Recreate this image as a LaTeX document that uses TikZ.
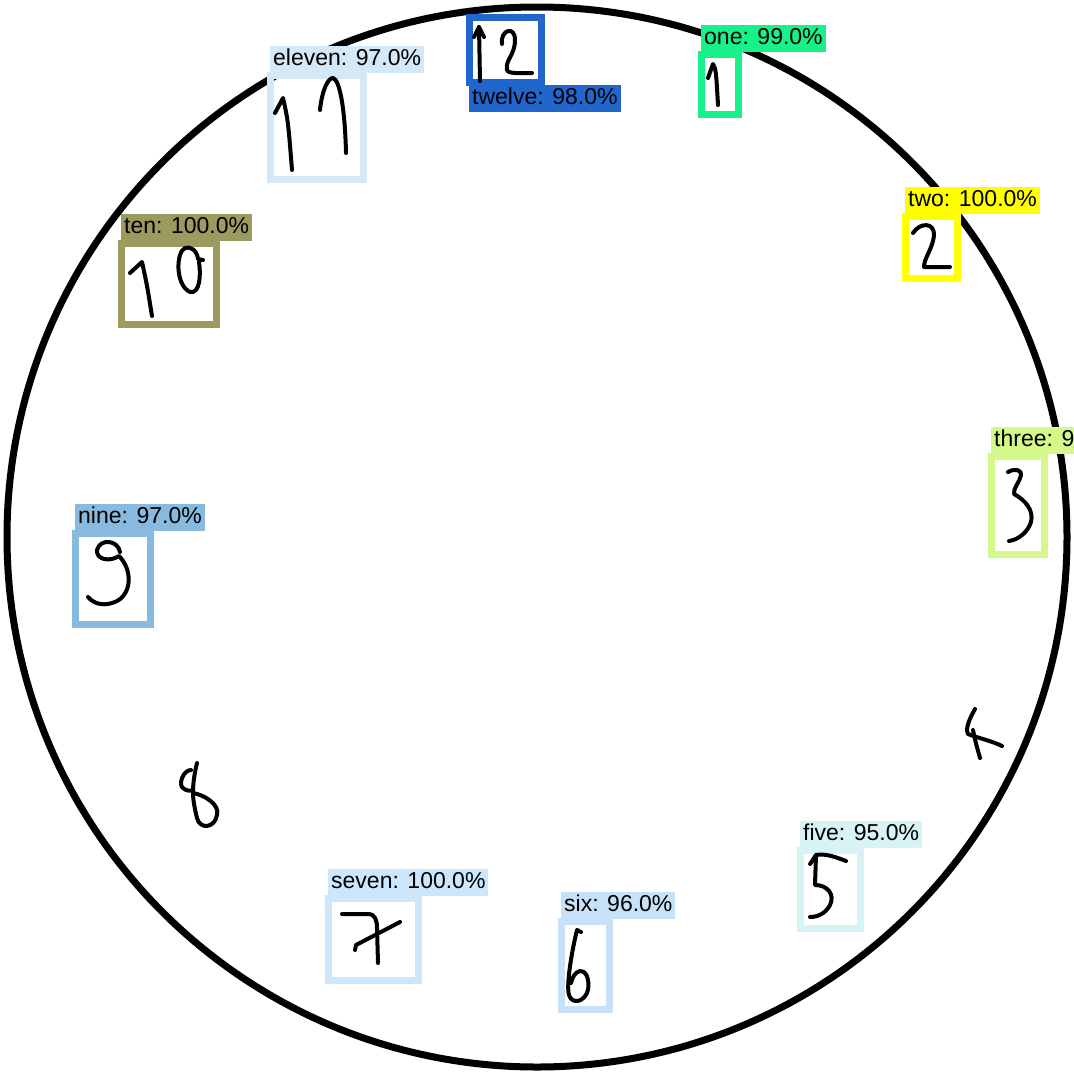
\documentclass[tikz,border=0pt]{standalone}
\usepackage{fontspec}
\setmainfont{Liberation Sans}
\usetikzlibrary{positioning}
\definecolor{ctwelve}{HTML}{2166CC}
\definecolor{celeven}{HTML}{D4E8F8}
\definecolor{cone}{HTML}{18F08A}
\definecolor{cten}{HTML}{9C9A5E}
\definecolor{ctwo}{HTML}{FFFF00}
\definecolor{cthree}{HTML}{D4F88A}
\definecolor{cnine}{HTML}{88BADF}
\definecolor{cfive}{HTML}{D8F3F3}
\definecolor{cseven}{HTML}{CCE7FB}
\definecolor{csix}{HTML}{C7E1F9}
\tikzset{
  digitbox/.style={draw, line width=7pt, inner sep=0pt},
  tag/.style={inner xsep=3pt, inner ysep=2.5pt, text height=17pt, text depth=5pt,
              font=\fontsize{23}{27}\selectfont},
  ink/.style={line width=4pt, line cap=round, line join=round}
}

\begin{document}
\begin{tikzpicture}[x=1pt, y=-1pt]
    \useasboundingbox[fill=white] (0,0) rectangle (1074,1074);
    \draw[line width=7pt] (537,537) circle[radius=530];

    % boxes around the recognised digits
    \node[digitbox, draw=ctwelve, minimum width=72pt, minimum height=65pt] (b12) at (505.5,50) {};
    \node[digitbox, draw=celeven, minimum width=93pt, minimum height=104pt] (b11) at (317,127.5) {};
    \node[digitbox, draw=cone, minimum width=37pt, minimum height=60pt] (b1) at (720,84.5) {};
    \node[digitbox, draw=cten, minimum width=95pt, minimum height=81pt] (b10) at (169,284) {};
    \node[digitbox, draw=ctwo, minimum width=52pt, minimum height=62pt] (b2) at (931.5,247.5) {};
    \node[digitbox, draw=cthree, minimum width=53pt, minimum height=98pt] (b3) at (1018,505.5) {};
    \node[digitbox, draw=cnine, minimum width=75pt, minimum height=91pt] (b9) at (113,579) {};
    \node[digitbox, draw=cfive, minimum width=60pt, minimum height=78pt] (b5) at (830.5,889.5) {};
    \node[digitbox, draw=cseven, minimum width=90pt, minimum height=82pt] (b7) at (373.5,939.5) {};
    \node[digitbox, draw=csix, minimum width=48pt, minimum height=88pt] (b6) at (585.5,965.5) {};

    % labels
    \node[tag, fill=ctwelve, below right=-1pt and 3pt of b12.south west] (l12) {twelve: 98.0\%};
    \node[tag, fill=celeven, above right=-1pt and 3pt of b11.north west] (l11) {eleven: 97.0\%};
    \node[tag, fill=cone, above right=-1pt and 3pt of b1.north west] (l1) {one: 99.0\%};
    \node[tag, fill=cten, above right=-1pt and 3pt of b10.north west] (l10) {ten: 100.0\%};
    \node[tag, fill=ctwo, above right=-1pt and 3pt of b2.north west] (l2) {two: 100.0\%};
    \node[tag, fill=cthree, above right=-1pt and 3pt of b3.north west] (l3) {three: 9};
    \node[tag, fill=cnine, above right=-1pt and 3pt of b9.north west] (l9) {nine: 97.0\%};
    \node[tag, fill=cfive, above right=-1pt and 3pt of b5.north west] (l5) {five: 95.0\%};
    \node[tag, fill=cseven, above right=-1pt and 3pt of b7.north west] (l7) {seven: 100.0\%};
    \node[tag, fill=csix, above right=-1pt and 3pt of b6.north west] (l6) {six: 96.0\%};

    % handwritten digits
    \draw[ink] (474,37) -- (479,27) -- (484,37);
    \draw[ink] (479,27) -- (480,81);
    \draw[ink] (502,44) .. controls (500,30) and (515,25) .. (515,40)
               .. controls (515,55) and (505,60) .. (507,70)
               .. controls (508,74) and (520,73) .. (532,73);
    \draw[ink] (275,113) -- (283,98) .. controls (288,120) .. (292,170);
    \draw[ink] (320,110) .. controls (322,90) and (328,78) .. (333,78)
               .. controls (340,80) and (345,110) .. (346,153);
    \draw[ink] (708,78) -- (713,64) .. controls (716,70) .. (718,105);
    \draw[ink] (130,273) -- (142,262) .. controls (147,285) .. (152,316);
    \draw[ink] (203,260) -- (198,259) .. controls (197,250) and (190,246) .. (185,248)
               .. controls (176,252) and (175,285) .. (190,292)
               .. controls (200,294) and (201,275) .. (199,262);
    \draw[ink] (913,233) .. controls (920,222) and (935,222) .. (934,236)
               .. controls (932,250) and (924,258) .. (924,267) -- (950,267);
    \draw[ink] (1008,472) .. controls (1015,468) and (1022,470) .. (1021,475)
               .. controls (1020,482) and (1013,488) .. (1014,494)
               .. controls (1025,500) and (1034,510) .. (1031,522)
               .. controls (1028,532) and (1018,540) .. (1009,541);
    \draw[ink] (120,552) .. controls (118,540) and (100,538) .. (97,550)
               .. controls (96,560) and (110,562) .. (119,556)
               .. controls (133,570) and (132,595) .. (115,602)
               .. controls (105,606) and (95,605) .. (88,597);
    \draw[ink] (197,763) .. controls (194,775) and (193,785) .. (193,793)
               .. controls (205,795) and (220,805) .. (217,815)
               .. controls (215,828) and (200,830) .. (197,818)
               .. controls (195,810) and (193,800) .. (193,793);
    \draw[ink] (191,770) .. controls (183,770) and (178,785) .. (183,788)
               .. controls (186,791) and (190,791) .. (193,790);
    \draw[ink] (975,709) .. controls (970,718) and (965,728) .. (968,734)
               .. controls (978,738) and (992,741) .. (1002,746);
    \draw[ink] (973,730) .. controls (975,740) .. (980,758);
    \draw[ink] (810,864) -- (816,855) .. controls (826,853) and (838,858) .. (846,861);
    \draw[ink] (816,855) -- (815,885) .. controls (828,885) and (835,895) .. (830,905)
               .. controls (826,913) and (818,917) .. (810,917);
    \draw[ink] (342,914) -- (368,914) .. controls (375,914) and (377,920) .. (377,928) -- (378,963);
    \draw[ink] (355,950) -- (356,945) -- (400,922);
    \draw[ink] (581,932) -- (577,930) .. controls (572,950) and (566,985) .. (569,995)
               .. controls (572,1005) and (585,1002) .. (588,990)
               .. controls (590,978) and (585,970) .. (580,971)
               .. controls (575,972) and (572,978) .. (571,983);
\end{tikzpicture}
\end{document}
